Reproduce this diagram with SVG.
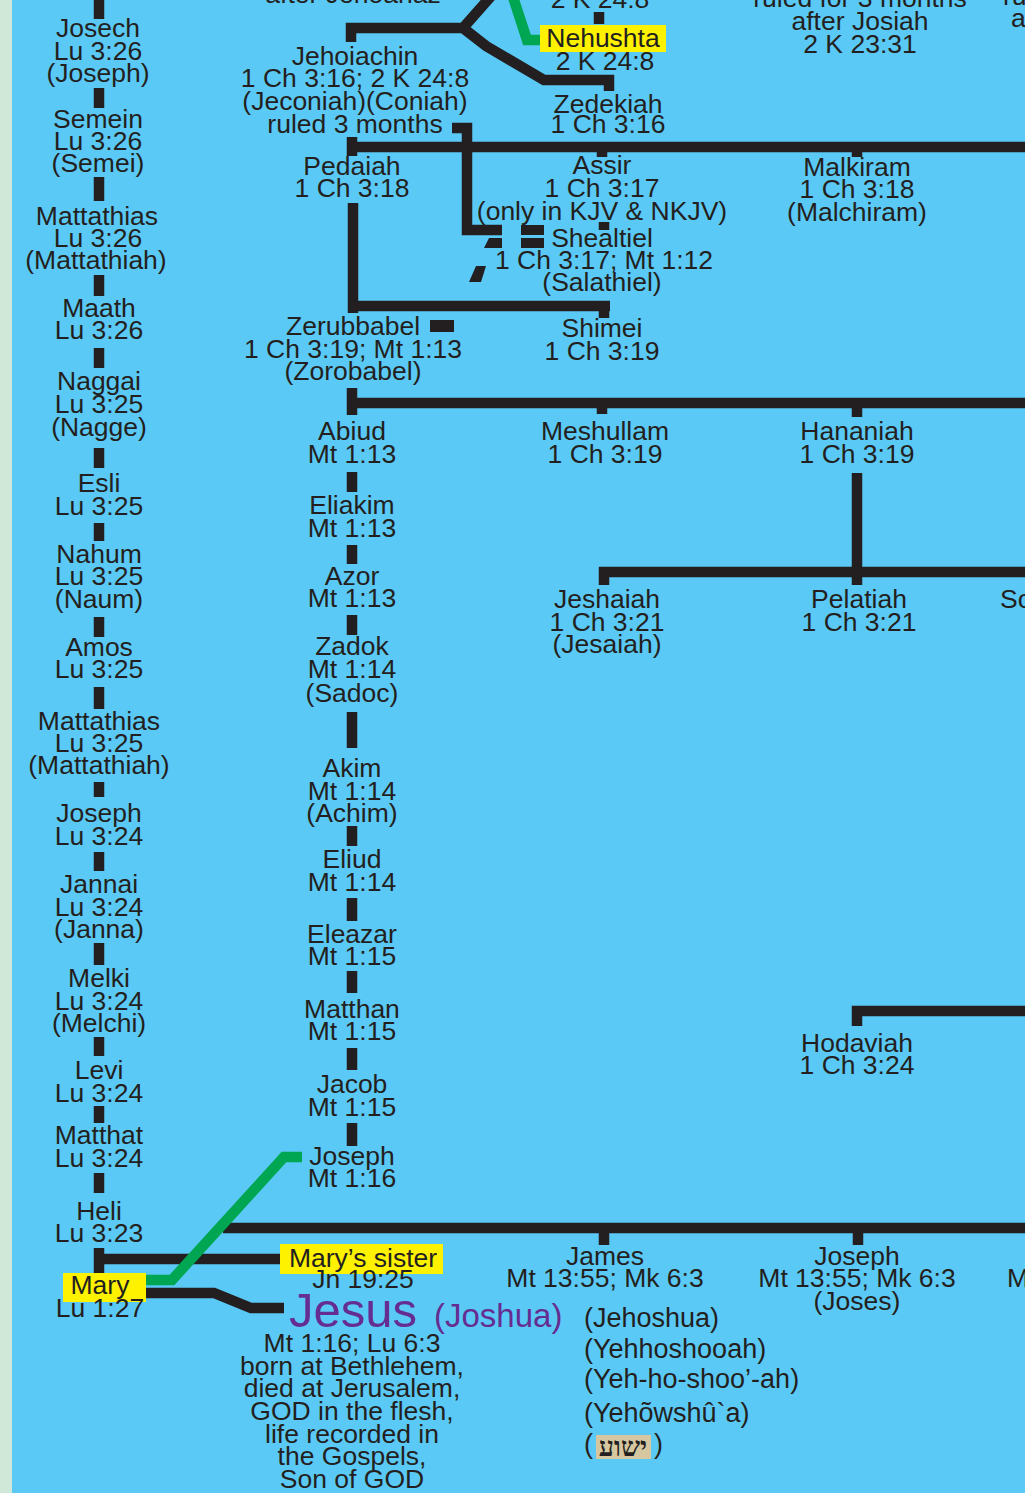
<svg xmlns="http://www.w3.org/2000/svg" width="1025" height="1493" viewBox="0 0 1025 1493">
<style>
.t{font-family:"Liberation Sans",Arial,Helvetica,sans-serif;font-size:26.5px;fill:#231F20;text-anchor:middle}
.s{text-anchor:start}
.k{fill:none;stroke:#231F20;stroke-width:10.5;stroke-linejoin:miter}
.g{fill:none;stroke:#00A651;stroke-width:10.5;stroke-linejoin:miter}
.f{fill:#231F20}
.hl{fill:#FFF200}
.p{font-family:"Liberation Sans",Arial,sans-serif;fill:#662D91}
.n{font-size:27px;text-anchor:start}
</style>
<rect x="0" y="0" width="1025" height="1493" fill="#5BC9F5"/>
<rect x="0" y="0" width="12" height="1493" fill="#D0E8D8"/>

<g id="connectors">
  <path class="k" d="M351,42 V23 M346,28 H463 L493,-6 M463,28 L486,46 L544,80 H614 M609,75 V91"/>
  <path class="k" d="M599,12 V24"/>
  <path class="k" d="M452,128 H467 V230 H502"/>
  <polygon class="f" points="489,238 502,238 502,248 484,248"/>
  <polygon class="f" points="476,266 486,266 481,282 469,282"/>
  <rect class="f" x="521" y="225" width="23" height="10"/>
  <rect class="f" x="521" y="238" width="23" height="10"/>
  <path class="k" d="M352,137 V156 M347,147 H1025 M602,147 V157 M857,147 V157"/>
  <path class="k" d="M604,222 V230"/>
  <path class="k" d="M353,203 V313 M348,306 H610 M604,301 V318"/>
  <rect class="f" x="430" y="320" width="24" height="12"/>
  <path class="k" d="M352,388 V415 M347,403 H1025 M602,403 V414 M857,403 V417"/>
  <path class="k" d="M857,473 V585 M599,572 H1025 M604,567 V585"/>
  <path class="k" d="M352,472 V492 M352,545 V564 M352,615 V635 M352,712 V748 M352,826 V846 M352,898 V921 M352,971 V993 M352,1048 V1070 M352,1123 V1146"/>
  <path class="k" d="M99,-1 V19 M99,88 V108 M99,177 V201 M99,275 V296 M99,348 V368 M99,448 V468 M99,523 V541 M99,617 V637 M99,687 V709 M99,782 V797 M99,852 V871 M99,943 V965 M99,1037 V1056 M99,1106 V1123 M99,1173 V1193 M99,1248 V1273"/>
  <path class="k" d="M857,1026 V1011 H1025"/>
  <path class="k" d="M223,1228 H1025 M604,1228 V1245 M858,1228 V1245"/>
  <path class="k" d="M99,1259 H281"/>
  <path class="k" d="M146,1293 H214 L251,1308 H284"/>
  <path class="g" d="M513,-3 L527,40 H541"/>
  <path class="g" d="M302,1157 H284 L172,1280 H146"/>
</g>

<g id="top-fragments">
  <text class="t" x="353" y="3">after Jehoahaz</text>
  <text class="t" x="600" y="8">2 K 24:8</text>
  <text class="t" x="860" y="7">ruled for 3 months</text>
  <text class="t" x="860" y="30">after Josiah</text>
  <text class="t" x="860" y="53">2 K 23:31</text>
  <text class="t s" x="1003" y="5">ru</text>
  <text class="t s" x="1011" y="27">a</text>
</g>

<g id="josech"><text class="t" x="98" y="37">Josech</text><text class="t" x="98" y="60">Lu 3:26</text><text class="t" x="98" y="82">(Joseph)</text></g>
<g id="semein"><text class="t" x="98" y="128">Semein</text><text class="t" x="98" y="150">Lu 3:26</text><text class="t" x="98" y="172">(Semei)</text></g>
<g id="mattathias1"><text class="t" x="97" y="225">Mattathias</text><text class="t" x="98" y="247">Lu 3:26</text><text class="t" x="96" y="269">(Mattathiah)</text></g>
<g id="maath"><text class="t" x="99" y="317">Maath</text><text class="t" x="99" y="339">Lu 3:26</text></g>
<g id="naggai"><text class="t" x="99" y="390">Naggai</text><text class="t" x="99" y="413">Lu 3:25</text><text class="t" x="99" y="436">(Nagge)</text></g>
<g id="esli"><text class="t" x="99" y="492">Esli</text><text class="t" x="99" y="515">Lu 3:25</text></g>
<g id="nahum"><text class="t" x="99" y="563">Nahum</text><text class="t" x="99" y="585">Lu 3:25</text><text class="t" x="99" y="608">(Naum)</text></g>
<g id="amos"><text class="t" x="99" y="656">Amos</text><text class="t" x="99" y="678">Lu 3:25</text></g>
<g id="mattathias2"><text class="t" x="99" y="730">Mattathias</text><text class="t" x="99" y="752">Lu 3:25</text><text class="t" x="99" y="774">(Mattathiah)</text></g>
<g id="joseph-lu"><text class="t" x="99" y="822">Joseph</text><text class="t" x="99" y="845">Lu 3:24</text></g>
<g id="jannai"><text class="t" x="99" y="893">Jannai</text><text class="t" x="99" y="916">Lu 3:24</text><text class="t" x="99" y="938">(Janna)</text></g>
<g id="melki"><text class="t" x="99" y="987">Melki</text><text class="t" x="99" y="1010">Lu 3:24</text><text class="t" x="99" y="1032">(Melchi)</text></g>
<g id="levi"><text class="t" x="99" y="1079">Levi</text><text class="t" x="99" y="1102">Lu 3:24</text></g>
<g id="matthat"><text class="t" x="99" y="1144">Matthat</text><text class="t" x="99" y="1167">Lu 3:24</text></g>
<g id="heli"><text class="t" x="99" y="1220">Heli</text><text class="t" x="99" y="1242">Lu 3:23</text></g>
<g id="mary"><rect class="hl" x="63" y="1273" width="83" height="29"/><text class="t" x="100" y="1294">Mary</text><text class="t" x="100" y="1317">Lu 1:27</text></g>

<g id="jehoiachin"><text class="t" x="355" y="65">Jehoiachin</text><text class="t" x="355" y="87">1 Ch 3:16; 2 K 24:8</text><text class="t" x="355" y="110">(Jeconiah)(Coniah)</text><text class="t" x="355" y="133">ruled 3 months</text></g>
<g id="nehushta"><rect class="hl" x="540" y="25" width="126" height="27"/><text class="t" x="603" y="47">Nehushta</text><text class="t" x="605" y="70">2 K 24:8</text></g>
<g id="zedekiah"><text class="t" x="608" y="113">Zedekiah</text><text class="t" x="608" y="133">1 Ch 3:16</text></g>
<g id="pedaiah"><text class="t" x="352" y="175">Pedaiah</text><text class="t" x="352" y="197">1 Ch 3:18</text></g>
<g id="assir"><text class="t" x="602" y="174">Assir</text><text class="t" x="602" y="197">1 Ch 3:17</text><text class="t" x="602" y="220">(only in KJV &amp; NKJV)</text></g>
<g id="malkiram"><text class="t" x="857" y="176">Malkiram</text><text class="t" x="857" y="198">1 Ch 3:18</text><text class="t" x="857" y="221">(Malchiram)</text></g>
<g id="shealtiel"><text class="t" x="602" y="247">Shealtiel</text><text class="t" x="604" y="269">1 Ch 3:17; Mt 1:12</text><text class="t" x="602" y="291">(Salathiel)</text></g>
<g id="zerubbabel"><text class="t" x="353" y="335">Zerubbabel</text><text class="t" x="353" y="358">1 Ch 3:19; Mt 1:13</text><text class="t" x="353" y="380">(Zorobabel)</text></g>
<g id="shimei"><text class="t" x="602" y="337">Shimei</text><text class="t" x="602" y="360">1 Ch 3:19</text></g>
<g id="abiud"><text class="t" x="352" y="440">Abiud</text><text class="t" x="352" y="463">Mt 1:13</text></g>
<g id="meshullam"><text class="t" x="605" y="440">Meshullam</text><text class="t" x="605" y="463">1 Ch 3:19</text></g>
<g id="hananiah"><text class="t" x="857" y="440">Hananiah</text><text class="t" x="857" y="463">1 Ch 3:19</text></g>
<g id="eliakim"><text class="t" x="352" y="514">Eliakim</text><text class="t" x="352" y="537">Mt 1:13</text></g>
<g id="azor"><text class="t" x="352" y="585">Azor</text><text class="t" x="352" y="607">Mt 1:13</text></g>
<g id="jeshaiah"><text class="t" x="607" y="608">Jeshaiah</text><text class="t" x="607" y="631">1 Ch 3:21</text><text class="t" x="607" y="653">(Jesaiah)</text></g>
<g id="pelatiah"><text class="t" x="859" y="608">Pelatiah</text><text class="t" x="859" y="631">1 Ch 3:21</text></g>
<g id="so-fragment"><text class="t s" x="1000" y="608">So</text></g>
<g id="zadok"><text class="t" x="352" y="655">Zadok</text><text class="t" x="352" y="678">Mt 1:14</text><text class="t" x="352" y="702">(Sadoc)</text></g>
<g id="akim"><text class="t" x="352" y="777">Akim</text><text class="t" x="352" y="800">Mt 1:14</text><text class="t" x="352" y="822">(Achim)</text></g>
<g id="eliud"><text class="t" x="352" y="868">Eliud</text><text class="t" x="352" y="891">Mt 1:14</text></g>
<g id="eleazar"><text class="t" x="352" y="943">Eleazar</text><text class="t" x="352" y="965">Mt 1:15</text></g>
<g id="matthan"><text class="t" x="352" y="1018">Matthan</text><text class="t" x="352" y="1040">Mt 1:15</text></g>
<g id="hodaviah"><text class="t" x="857" y="1052">Hodaviah</text><text class="t" x="857" y="1074">1 Ch 3:24</text></g>
<g id="jacob"><text class="t" x="352" y="1093">Jacob</text><text class="t" x="352" y="1116">Mt 1:15</text></g>
<g id="joseph-mt"><text class="t" x="352" y="1165">Joseph</text><text class="t" x="352" y="1187">Mt 1:16</text></g>
<g id="marys-sister"><rect class="hl" x="280" y="1244" width="163" height="30"/><text class="t" x="363" y="1267">Mary’s sister</text><text class="t" x="363" y="1288">Jn 19:25</text></g>
<g id="james"><text class="t" x="605" y="1265">James</text><text class="t" x="605" y="1287">Mt 13:55; Mk 6:3</text></g>
<g id="joseph-joses"><text class="t" x="857" y="1265">Joseph</text><text class="t" x="857" y="1287">Mt 13:55; Mk 6:3</text><text class="t" x="857" y="1310">(Joses)</text></g>
<g id="m-fragment"><text class="t s" x="1007" y="1287">M</text></g>

<g id="jesus">
  <text class="p" x="289" y="1327" font-size="49">Jesus</text>
  <text class="p" x="434" y="1327" font-size="33">(Joshua)</text>
  <text class="t" x="352" y="1352">Mt 1:16; Lu 6:3</text>
  <text class="t" x="352" y="1375">born at Bethlehem,</text>
  <text class="t" x="352" y="1397">died at Jerusalem,</text>
  <text class="t" x="352" y="1420">GOD in the flesh,</text>
  <text class="t" x="352" y="1443">life recorded in</text>
  <text class="t" x="352" y="1465">the Gospels,</text>
  <text class="t" x="352" y="1488">Son of GOD</text>
  <text class="t n" x="584" y="1327">(Jehoshua)</text>
  <text class="t n" x="584" y="1358">(Yehhoshooah)</text>
  <text class="t n" x="584" y="1388">(Yeh-ho-shoo’-ah)</text>
  <text class="t n" x="584" y="1422">(Yehõwshû`a)</text>
  <text class="t n" x="584" y="1453">(</text>
  <rect x="596" y="1435" width="55" height="24" fill="#D6C7A1"/>
  <text x="623" y="1456" font-family="'Liberation Serif','DejaVu Serif','DejaVu Sans',serif" font-weight="bold" font-size="27" fill="#231F20" text-anchor="middle">ישוע</text>
  <text class="t n" x="654" y="1453">)</text>
</g>
</svg>
